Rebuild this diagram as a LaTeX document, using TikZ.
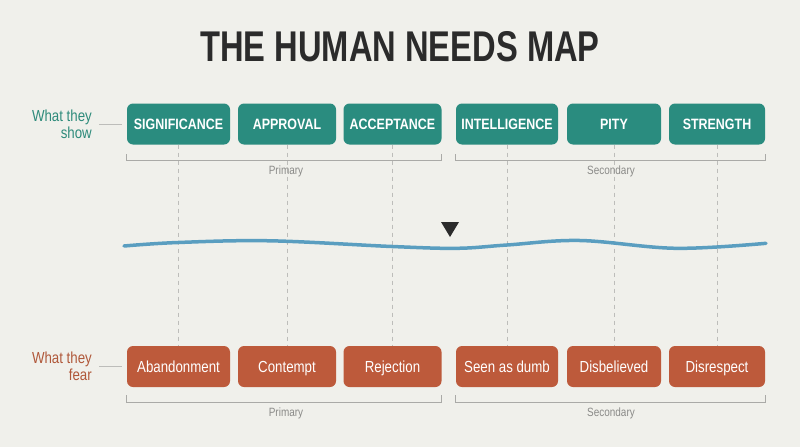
\documentclass[tikz,border=0pt]{standalone}
\usepackage{fontspec}
\setmainfont{Liberation Sans}
\newfontfamily\cond[FakeStretch=0.83]{Liberation Sans}
\newfontfamily\titlefont[FakeStretch=0.76]{Liberation Sans}
\definecolor{bg}{HTML}{F0F0EB}
\definecolor{teal}{HTML}{2A8C7F}
\definecolor{rust}{HTML}{BD5A3B}
\definecolor{tealtxt}{HTML}{2E8B7B}
\definecolor{rusttxt}{HTML}{B0583A}
\definecolor{wave}{HTML}{5A9EC0}
\definecolor{guide}{HTML}{BDBDBA}
\definecolor{graytxt}{HTML}{8A8A88}
\definecolor{titletxt}{HTML}{2B2B2B}
\tikzset{
  showbox/.style={fill=teal, rounded corners=6pt, minimum height=41pt, inner sep=0pt,
    text=white, text height=11pt, text depth=0pt, font=\cond\bfseries\fontsize{15}{15}\selectfont},
  fearbox/.style={fill=rust, rounded corners=6pt, minimum height=41pt, inner sep=0pt,
    text=white, text height=11.5pt, text depth=0pt, font=\cond\fontsize{16}{16}\selectfont},
  sidelbl/.style={align=right, anchor=east, inner sep=0pt, font=\cond\fontsize{16}{17}\selectfont},
  grouplbl/.style={text=graytxt, inner sep=0pt, font=\cond\fontsize{12}{12}\selectfont},
  guideline/.style={draw=guide, line width=0.8pt, dash pattern=on 4pt off 4pt},
  bracket/.style={draw=guide!90!black, line width=1pt},
}
\begin{document}
\begin{tikzpicture}[x=1pt,y=-1pt]
\fill[bg] (0,0) rectangle (800,447);
\useasboundingbox (0,0) rectangle (800,447);

\node[text=titletxt, font=\titlefont\bfseries\fontsize{43}{43}\selectfont] (title) at (400,47) {THE HUMAN NEEDS MAP};

% top boxes
\node[showbox, minimum width=103pt] (s1) at (178.5,124) {SIGNIFICANCE};
\node[showbox, minimum width=98pt]  (s2) at (287,124) {APPROVAL};
\node[showbox, minimum width=98pt]  (s3) at (392.5,124) {ACCEPTANCE};
\node[showbox, minimum width=102pt] (s4) at (507,124) {INTELLIGENCE};
\node[showbox, minimum width=94pt]  (s5) at (614,124) {PITY};
\node[showbox, minimum width=96pt]  (s6) at (717,124) {STRENGTH};

% bottom boxes
\node[fearbox, minimum width=103pt] (f1) at (178.5,366.5) {Abandonment};
\node[fearbox, minimum width=98pt]  (f2) at (287,366.5) {Contempt};
\node[fearbox, minimum width=98pt]  (f3) at (392.5,366.5) {Rejection};
\node[fearbox, minimum width=102pt] (f4) at (507,366.5) {Seen as dumb};
\node[fearbox, minimum width=94pt]  (f5) at (614,366.5) {Disbelieved};
\node[fearbox, minimum width=96pt]  (f6) at (717,366.5) {Disrespect};

% guides
\foreach \i in {1,...,6} {
  \draw[guideline] (s\i.south) -- (f\i.north);
}

% side labels
\node[sidelbl, text=tealtxt] (lshow) at (92,124) {What they\\show};
\node[sidelbl, text=rusttxt] (lfear) at (92,366.5) {What they\\fear};
\draw[guide, line width=1pt] ([xshift=7pt]lshow.east) -- ([xshift=-5pt]s1.west);
\draw[guide, line width=1pt] ([xshift=7pt]lfear.east) -- ([xshift=-5pt]f1.west);

% brackets
\coordinate (bt) at (0,160);
\coordinate (btt) at (0,154);
\coordinate (bb) at (0,402);
\coordinate (bbt) at (0,395);
\draw[bracket] (s1.west |- btt) -- (s1.west |- bt) -- (s3.east |- bt) -- (s3.east |- btt);
\draw[bracket] (s4.west |- btt) -- (s4.west |- bt) -- (s6.east |- bt) -- (s6.east |- btt);
\draw[bracket] (f1.west |- bbt) -- (f1.west |- bb) -- (f3.east |- bb) -- (f3.east |- bbt);
\draw[bracket] (f4.west |- bbt) -- (f4.west |- bb) -- (f6.east |- bb) -- (f6.east |- bbt);
\node[grouplbl] (p1) at (286,171) {Primary};
\node[grouplbl] (p2) at (611,171) {Secondary};
\node[grouplbl] (p3) at (286,413) {Primary};
\node[grouplbl] (p4) at (611,413) {Secondary};

% wave
\draw[wave, line width=3.5pt, line cap=round] plot[smooth, tension=0.6] coordinates
  {(124,246) (178,242.5) (270,240.8) (392,246.5) (457,248.3) (507,245) (580,240.5) (676,248.3) (766,243.3)};

% marker
\fill[titletxt] (441,222) -- (459,222) -- (450,237) -- cycle;
\end{tikzpicture}
\end{document}
